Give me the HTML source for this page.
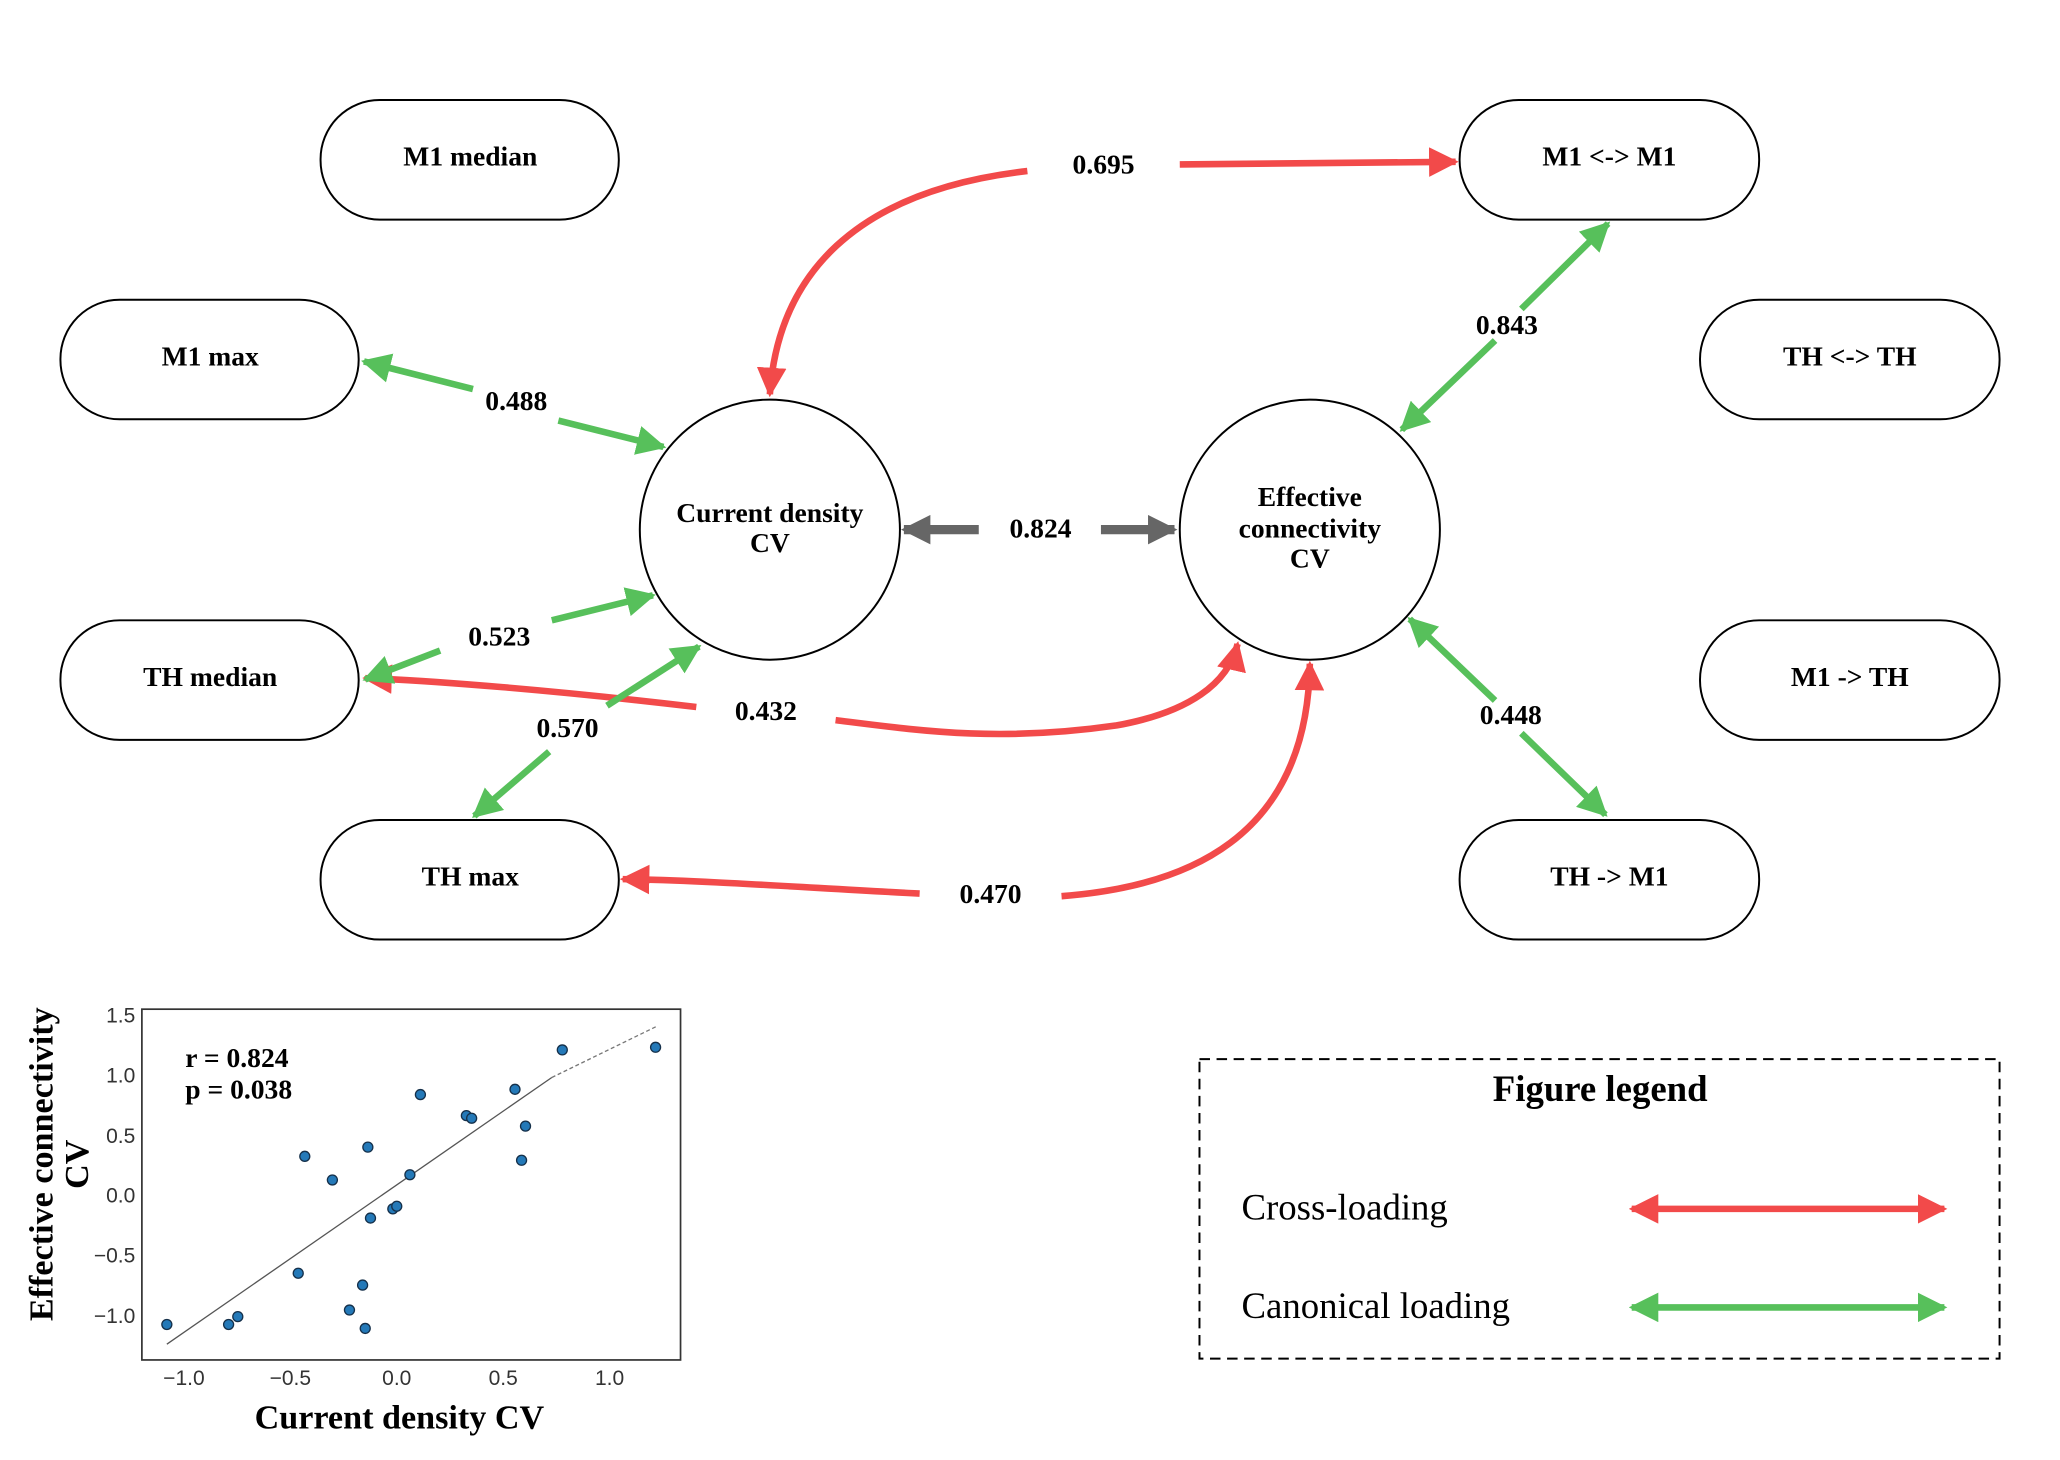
<!DOCTYPE html>
<html><head><style>html,body{margin:0;padding:0;background:#fff}svg{display:block}</style></head>
<body>
<svg width="2060" height="1460" viewBox="0 0 1568 1111" xmlns="http://www.w3.org/2000/svg">
<defs>
<marker id="g" viewBox="0 0 10 10" refX="9" refY="5" markerWidth="4.5" markerHeight="4.5" orient="auto-start-reverse" markerUnits="strokeWidth"><path d="M0,0L10,5L0,10z" fill="#57c05b"/></marker>
<marker id="r" viewBox="0 0 10 10" refX="9" refY="5" markerWidth="4.5" markerHeight="4.5" orient="auto-start-reverse" markerUnits="strokeWidth"><path d="M0,0L10,5L0,10z" fill="#f24a4a"/></marker>
<marker id="k" viewBox="0 0 10 10" refX="9" refY="5" markerWidth="3.2" markerHeight="3.2" orient="auto-start-reverse" markerUnits="strokeWidth"><path d="M0,0L10,5L0,10z" fill="#666"/></marker>
</defs>
<g font-family="Liberation Serif, serif" font-weight="bold" font-size="21" text-anchor="middle" fill="#000">
<g fill="#fff" stroke="#000" stroke-width="1.5">
<rect x="244" y="76" width="227" height="91" rx="45"/>
<rect x="46" y="228" width="227" height="91" rx="45"/>
<rect x="46" y="472" width="227" height="91" rx="45"/>
<rect x="244" y="624" width="227" height="91" rx="45"/>
<rect x="1111" y="76" width="228" height="91" rx="45"/>
<rect x="1294" y="228" width="228" height="91" rx="45"/>
<rect x="1294" y="472" width="228" height="91" rx="45"/>
<rect x="1111" y="624" width="228" height="91" rx="45"/>
<circle cx="586" cy="403" r="99"/>
<circle cx="997" cy="403" r="99"/>
</g>
<text x="358" y="126">M1 median</text>
<text x="160" y="278">M1 max</text>
<text x="160" y="522">TH median</text>
<text x="358" y="674">TH max</text>
<text x="1225" y="126">M1 &lt;-&gt; M1</text>
<text x="1408" y="278">TH &lt;-&gt; TH</text>
<text x="1408" y="522">M1 -&gt; TH</text>
<text x="1225" y="674">TH -&gt; M1</text>
<text x="586" y="397">Current density</text>
<text x="586" y="420">CV</text>
<text x="997" y="385">Effective</text>
<text x="997" y="409">connectivity</text>
<text x="997" y="432">CV</text>
<g fill="none" stroke="#f24a4a" stroke-width="5">
<path d="M898,125 L1108,123" marker-end="url(#r)"/>
<path d="M782,130 C650,145 592,210 586,300" marker-end="url(#r)"/>
<path d="M530,538 C420,525 330,518 278,516" marker-end="url(#r)"/>
<path d="M636,548 C700,556 760,565 850,552 C905,542 935,520 942,490" marker-end="url(#r)"/>
<path d="M700,680 C620,676 540,670 474,669" marker-end="url(#r)"/>
<path d="M808,682 C900,675 995,640 997,505" marker-end="url(#r)"/>
</g>
<g fill="none" stroke="#57c05b" stroke-width="5">
<path d="M360,296 L277,275" marker-end="url(#g)"/>
<path d="M425,320 L505,340" marker-end="url(#g)"/>
<path d="M420,472 L497,453" marker-end="url(#g)"/>
<path d="M335,495 L278,517" marker-end="url(#g)"/>
<path d="M462,537 L532,492" marker-end="url(#g)"/>
<path d="M418,572 L361,621" marker-end="url(#g)"/>
<path d="M1158,235 L1224,170" marker-end="url(#g)"/>
<path d="M1138,259 L1067,327" marker-end="url(#g)"/>
<path d="M1138,533 L1073,471" marker-end="url(#g)"/>
<path d="M1158,558 L1222,620" marker-end="url(#g)"/>
</g>
<g fill="none" stroke="#666" stroke-width="7">
<path d="M745,403 L688,403" marker-end="url(#k)"/>
<path d="M838,403 L894,403" marker-end="url(#k)"/>
</g>
<text x="840" y="132">0.695</text>
<text x="393" y="312">0.488</text>
<text x="380" y="491">0.523</text>
<text x="432" y="561">0.570</text>
<text x="583" y="548">0.432</text>
<text x="754" y="687">0.470</text>
<text x="792" y="409">0.824</text>
<text x="1147" y="254">0.843</text>
<text x="1150" y="551">0.448</text>
</g>
<rect x="913" y="806" width="609" height="228" fill="none" stroke="#000" stroke-width="1.5" stroke-dasharray="8,5"/>
<text x="1218" y="838" font-family="Liberation Serif, serif" font-weight="bold" font-size="28" text-anchor="middle">Figure legend</text>
<text x="945" y="928" font-family="Liberation Serif, serif" font-size="28">Cross-loading</text>
<text x="945" y="1003" font-family="Liberation Serif, serif" font-size="28">Canonical loading</text>
<path d="M1242,920 L1480,920" stroke="#f24a4a" stroke-width="5" marker-start="url(#r)" marker-end="url(#r)"/>
<path d="M1242,995 L1480,995" stroke="#57c05b" stroke-width="5" marker-start="url(#g)" marker-end="url(#g)"/>
<rect x="108" y="768" width="410" height="267" fill="#fff" stroke="#333" stroke-width="1.3"/>
<g font-family="Liberation Sans, sans-serif" font-size="16" fill="#333">
<g text-anchor="end">
<text x="103" y="778">1.5</text><text x="103" y="824">1.0</text><text x="103" y="870">0.5</text>
<text x="103" y="915">0.0</text><text x="103" y="961">−0.5</text><text x="103" y="1007">−1.0</text>
</g>
<g text-anchor="middle">
<text x="140" y="1054">−1.0</text><text x="221" y="1054">−0.5</text><text x="302" y="1054">0.0</text>
<text x="383" y="1054">0.5</text><text x="464" y="1054">1.0</text>
</g>
</g>
<line x1="127" y1="1023" x2="420" y2="820" stroke="#555" stroke-width="1"/>
<line x1="420" y1="820" x2="500" y2="781" stroke="#777" stroke-width="1" stroke-dasharray="3,2"/>
<g fill="#2479b8" stroke="#15304a" stroke-width="1">
<circle cx="127" cy="1008" r="3.8"/><circle cx="174" cy="1008" r="3.8"/><circle cx="181" cy="1002" r="3.8"/>
<circle cx="227" cy="969" r="3.8"/><circle cx="232" cy="880" r="3.8"/><circle cx="253" cy="898" r="3.8"/>
<circle cx="266" cy="997" r="3.8"/><circle cx="276" cy="978" r="3.8"/><circle cx="278" cy="1011" r="3.8"/>
<circle cx="280" cy="873" r="3.8"/><circle cx="282" cy="927" r="3.8"/><circle cx="299" cy="920" r="3.8"/>
<circle cx="302" cy="918" r="3.8"/><circle cx="312" cy="894" r="3.8"/><circle cx="320" cy="833" r="3.8"/>
<circle cx="355" cy="849" r="3.8"/><circle cx="359" cy="851" r="3.8"/><circle cx="392" cy="829" r="3.8"/>
<circle cx="400" cy="857" r="3.8"/><circle cx="397" cy="883" r="3.8"/><circle cx="428" cy="799" r="3.8"/>
<circle cx="499" cy="797" r="3.8"/>
</g>
<g font-family="Liberation Serif, serif" font-weight="bold" font-size="21">
<text x="141" y="812">r = 0.824</text>
<text x="141" y="836">p = 0.038</text>
</g>
<text x="304" y="1087" font-family="Liberation Serif, serif" font-weight="bold" font-size="26" text-anchor="middle">Current density CV</text>
<g font-family="Liberation Serif, serif" font-weight="bold" font-size="26" text-anchor="middle">
<text transform="translate(40,886) rotate(-90)">Effective connectivity</text>
<text transform="translate(67,886) rotate(-90)">CV</text>
</g>
</svg>
</body></html>
